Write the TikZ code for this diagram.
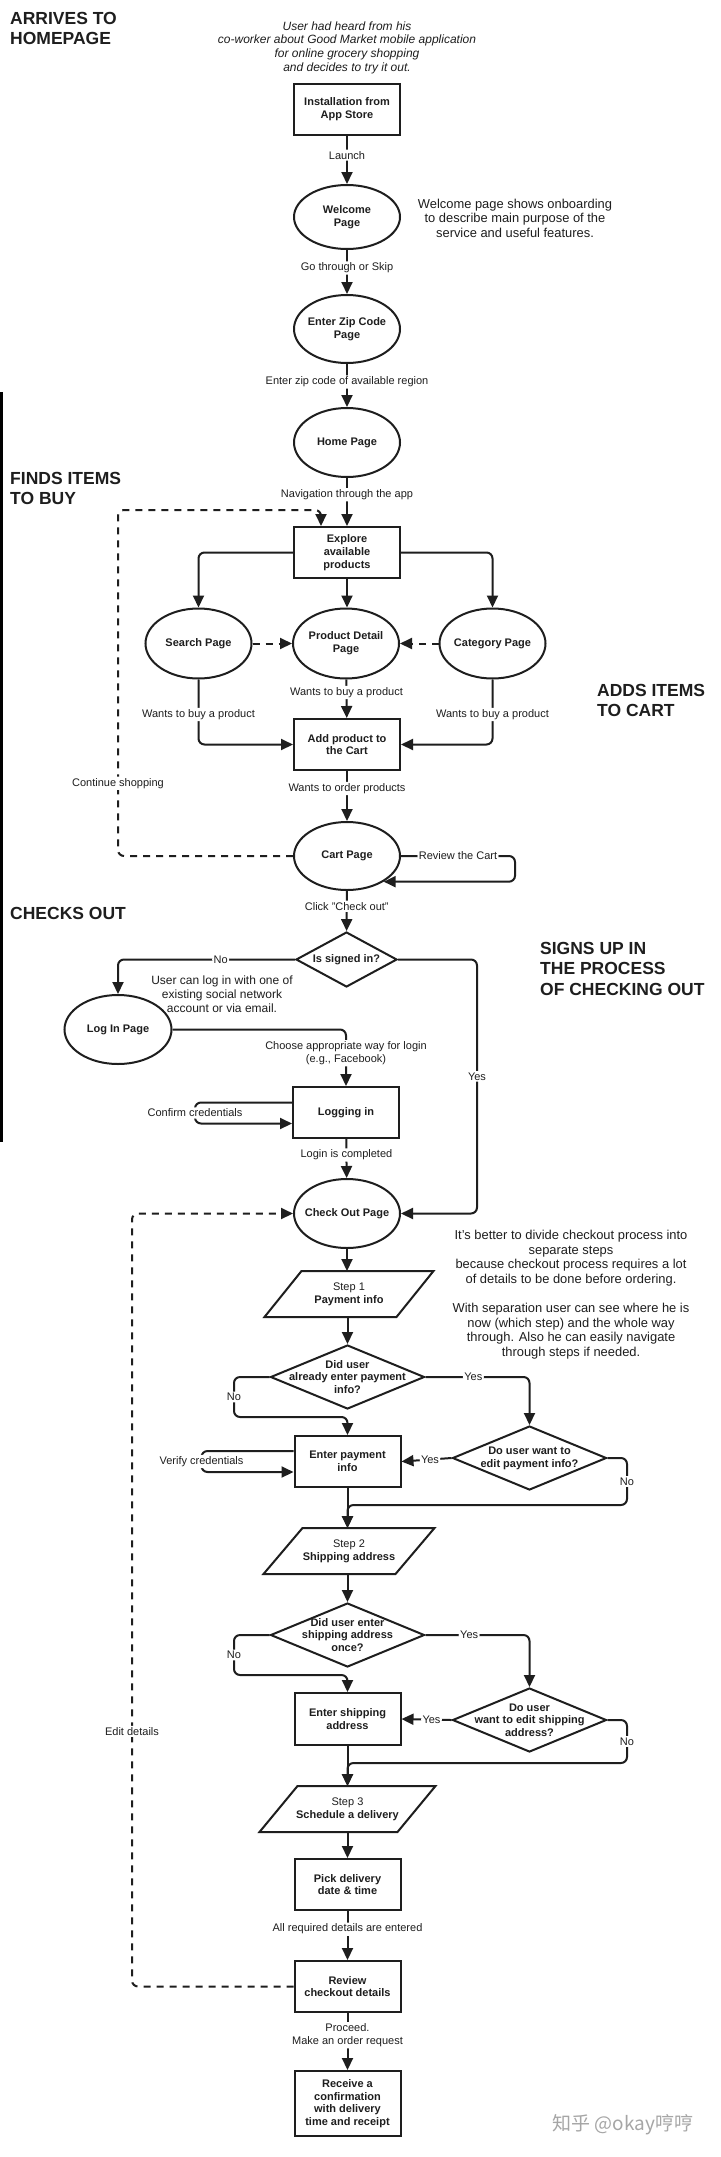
\documentclass[tikz,border=0pt]{standalone}
\usepackage{fontspec}
\setmainfont{Liberation Sans}
\newfontfamily\cjk{Noto Sans CJK SC}
\usetikzlibrary{arrows.meta,shapes.geometric,calc}
\definecolor{ink}{HTML}{1E1E1E}
\tikzset{
  lw/.style={line width=2pt, draw=ink},
  btext/.style={align=center, inner sep=0pt, text=ink, font=\bfseries\fontsize{11}{12.7}\selectfont},
  boxnode/.style={lw, rectangle, minimum width=106pt, minimum height=51pt, inner sep=2pt, align=center, text=ink, font=\bfseries\fontsize{11}{12.7}\selectfont},
  ellnode/.style={lw, ellipse, minimum width=106pt, minimum height=68pt, inner sep=0pt},
  dianode/.style={lw, diamond, minimum width=154pt, minimum height=64pt, inner sep=0pt},
  paranode/.style={rectangle, minimum width=132pt, minimum height=46pt, inner sep=0pt, outer sep=0pt, align=center, text=ink, font=\fontsize{11}{12.8}\selectfont},
  conn/.style={line width=2pt, draw=ink, -{Triangle[length=12pt,width=11pt]}, rounded corners=6pt},
  dconn/.style={conn, dash pattern=on 7pt off 6pt},
  lab/.style={fill=white, inner sep=1.5pt, align=center, text=ink, font=\fontsize{11}{13}\selectfont},
  notetext/.style={align=center, text=ink, font=\fontsize{12.9}{14.6}\selectfont},
  title/.style={align=left, anchor=north west, inner sep=0pt, text=ink, font=\bfseries\fontsize{17.5}{20.5}\selectfont},
}
\newcommand{\paraoutline}[2]{%
  \draw[lw, line join=miter] ($(#1.north west)+(#2,0)$) -- ($(#1.north east)+(#2,0)$) -- ($(#1.south east)+(-#2,0)$) -- ($(#1.south west)+(-#2,0)$) -- cycle;}
\begin{document}
\begin{tikzpicture}[x=1pt,y=-1pt]
\fill[white] (0,0) rectangle (720,2157);
\useasboundingbox (0,0) rectangle (720,2157);
\fill[black] (0,392) rectangle (2.5,1142);

% titles
\node[title] (t1) at (10,12) {ARRIVES TO\\HOMEPAGE};
\node[title] (t2) at (10,472) {FINDS ITEMS\\TO BUY};
\node[title] (t3) at (597,684) {ADDS ITEMS\\TO CART};
\node[title] (t4) at (10,907) {CHECKS OUT};
\node[title] (t5) at (540,942) {SIGNS UP IN\\THE PROCESS\\OF CHECKING OUT};

% notes
\node[align=center, text=ink, font=\itshape\fontsize{12}{13.7}\selectfont] (intro) at (347,47.5) {User had heard from his\\co-worker about Good Market mobile application\\for online grocery shopping\\and decides to try it out.};
\node[notetext] (wnote) at (515,218) {Welcome page shows onboarding\\to describe main purpose of the\\service and useful features.};
\node[align=center, text=ink, font=\fontsize{12}{14}\selectfont] (lnote) at (222,994) {User can log in with one of\\existing social network\\account or via email.};
\node[notetext] (cnote) at (571,1294.5) {It's better to divide checkout process into\\separate steps\\because checkout process requires a lot\\of details to be done before ordering.\\[14.6pt]With separation user can see where he is\\now (which step) and the whole way\\through. Also he can easily navigate\\through steps if needed.};

% main nodes
\node[boxnode] (inst) at (347,109.5) {Installation from\\App Store};
\node[ellnode, minimum height=64pt, label={[btext]center:{Welcome\\Page}}] (welcome) at (347,217) {};
\node[ellnode, label={[btext]center:{Enter Zip Code\\Page}}] (zip) at (347,329) {};
\node[ellnode, minimum height=69pt, label={[btext]center:{Home Page}}] (home) at (347,442.5) {};
\node[boxnode] (explore) at (347,552.5) {Explore\\available\\products};
\node[ellnode, minimum width=106pt, minimum height=70pt, label={[btext]center:{Search Page}}] (search) at (198.5,643.5) {};
\node[ellnode, minimum height=70pt, label={[btext]center:{Product Detail\\Page}}] (detail) at (346,643.5) {};
\node[ellnode, minimum height=70pt, label={[btext]center:{Category Page}}] (category) at (492.5,643.5) {};
\node[boxnode] (add) at (347,744.5) {Add product to\\the Cart};
\node[ellnode, label={[btext]center:{Cart Page}}] (cart) at (347,856) {};
\node[dianode, minimum width=101pt, minimum height=55pt, label={[btext]center:{Is signed in?}}] (signed) at (346.5,959.5) {};
\node[ellnode, minimum width=107pt, minimum height=69pt, label={[btext]center:{Log In Page}}] (login) at (118,1029.5) {};
\node[boxnode] (logging) at (346,1112.5) {Logging in};
\node[ellnode, minimum height=69pt, label={[btext]center:{Check Out Page}}] (checkout) at (347,1213.5) {};

\node[paranode] (s1) at (349,1294) {Step 1\\\textbf{Payment info}};
\paraoutline{s1}{18.5}
\node[dianode, label={[btext]center:{Did user\\already enter payment\\info?}}] (d1) at (347.5,1377) {};
\node[boxnode] (epay) at (347.5,1461.5) {Enter payment\\info};
\node[dianode, label={[btext]center:{Do user want to\\edit payment info?}}] (d2) at (529.5,1458) {};
\node[paranode] (s2) at (349,1551) {Step 2\\\textbf{Shipping address}};
\paraoutline{s2}{19.5}
\node[dianode, label={[btext]center:{Did user enter\\shipping address\\once?}}] (d3) at (347.5,1635) {};
\node[boxnode, minimum height=52pt] (eship) at (347.5,1719) {Enter shipping\\address};
\node[dianode, label={[btext]center:{Do user\\want to edit shipping\\address?}}] (d4) at (529.5,1720) {};
\node[paranode, minimum width=138pt] (s3) at (347.5,1809) {Step 3\\\textbf{Schedule a delivery}};
\paraoutline{s3}{19}
\node[boxnode] (pick) at (347.5,1884.5) {Pick delivery\\date \& time};
\node[boxnode] (review) at (347.5,1986.5) {Review\\checkout details};
\node[boxnode, minimum height=65pt] (receive) at (347.5,2103.5) {Receive a\\confirmation\\with delivery\\time and receipt};

% connectors
\draw[conn] (inst) -- node[lab,pos=0.4]{Launch} (welcome);
\draw[conn] (welcome) -- node[lab,pos=0.41]{Go through or Skip} (zip);
\draw[conn] (zip) -- node[lab,pos=0.42]{Enter zip code of available region} (home);
\draw[conn] (home) -- node[lab,pos=0.35]{Navigation through the app} (explore);
\draw[conn] (explore.west) -| (search.north);
\draw[conn] (explore.east) -| (category.north);
\draw[conn] (explore.south) -- (explore.south |- detail.north);
\draw[dconn] (search) -- (detail);
\draw[dconn] (category) -- (detail);
\draw[conn] (detail) -- node[lab,pos=0.34]{Wants to buy a product} (add);
\draw[conn] (search.south) |- node[lab,pos=0.27]{Wants to buy a product} (add.west);
\draw[conn] (category.south) |- node[lab,pos=0.27]{Wants to buy a product} (add.east);
\draw[conn] (add) -- node[lab,pos=0.35]{Wants to order products} (cart);
\coordinate (cs) at (118,510);
\draw[dconn] (cart.west) -| node[lab,pos=0.605]{Continue shopping} (cs) -| ($(explore.north)+(-26,0)$);
\draw[conn] (cart.east) -- node[lab,pos=0.5]{Review the Cart} ++(114,0) |- (cart.-35);
\draw[conn] (cart) -- node[lab,pos=0.38]{Click "Check out"} (signed);
\draw[conn] (signed.west) -| node[lab,pos=0.21]{No} (login.north);
\coordinate (yx) at (477,959.5);
\draw[conn] (signed.east) -- (yx) |- node[lab,pos=0.23]{Yes} (checkout.east);
\draw[conn] (login.east) -| node[lab,pos=0.71]{Choose appropriate way for login\\(e.g., Facebook)} (logging.north);
\draw[conn] ($(logging.west)+(0,-10)$) -- ++(-97,0) -- node[lab]{Confirm credentials} ++(0,21) -- ($(logging.west)+(0,11)$);
\draw[conn] (logging) -- node[lab,pos=0.41]{Login is completed} (checkout);
\coordinate (ed) at (132,1986.5);
\draw[dconn] (review.west) -- (ed) |- node[lab,pos=0.165]{Edit details} (checkout.west);

\draw[conn] (checkout.south) -- (checkout.south |- s1.north);
\draw[conn] (s1.south -| d1.north) -- (d1.north);
\draw[conn] (d1.east) -| node[lab,pos=0.23]{Yes} (d2.north);
\coordinate (no1) at (234,1417);
\draw[conn] (d1.west) -| node[lab,pos=0.75]{No} (no1) -| (epay.north);
\draw[conn] (d2.west) -- node[lab,pos=0.43]{Yes} (epay.east);
\coordinate (no2) at (627,1505);
\draw[conn] (d2.east) -| node[lab,pos=0.75]{No} (no2) -| (epay.south |- s2.north);
\draw[conn] (epay.south) -- (epay.south |- s2.north);
\draw[conn] ($(epay.west)+(0,-10.5)$) -- ++(-92,0) -- node[lab]{Verify credentials} ++(0,21) -- ($(epay.west)+(0,10.5)$);

\draw[conn] (s2.south -| d3.north) -- (d3.north);
\draw[conn] (d3.east) -| node[lab,pos=0.21]{Yes} (d4.north);
\coordinate (no3) at (234,1675);
\draw[conn] (d3.west) -| node[lab,pos=0.75]{No} (no3) -| (eship.north);
\draw[conn] (d4.west) -- node[lab,pos=0.4]{Yes} (eship.east);
\coordinate (no4) at (627,1763);
\draw[conn] (d4.east) -| node[lab,pos=0.75]{No} (no4) -| (s3.north);
\draw[conn] (eship) -- (s3);
\draw[conn] (s3) -- (pick);
\draw[conn] (pick) -- node[lab,pos=0.37]{All required details are entered} (review);
\draw[conn] (review) -- node[lab,pos=0.39]{Proceed.\\Make an order request} (receive);

% watermark
\node[text=black!35, font=\cjk\fontsize{19}{20}\selectfont] (wm) at (623,2125) {知乎 @okay哼哼};
\end{tikzpicture}
\end{document}
